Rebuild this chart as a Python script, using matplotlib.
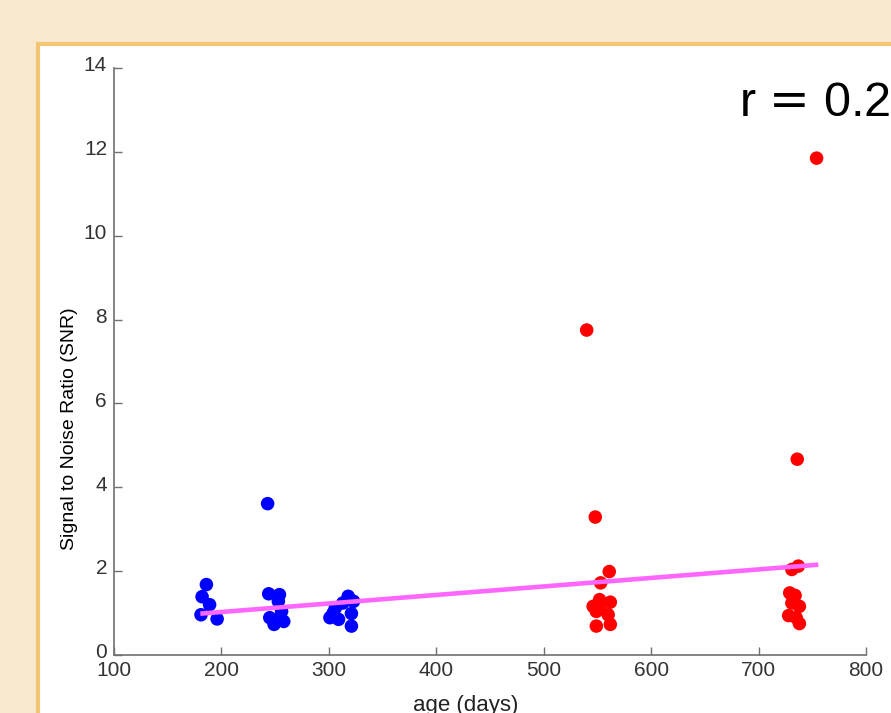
import matplotlib.pyplot as plt
import matplotlib.transforms as mtransforms
from matplotlib.patches import Rectangle

plt.rcParams['font.family'] = ['Liberation Sans', 'DejaVu Sans']
plt.rcParams['mathtext.fontset'] = 'dejavusans'

# younger group (blue)
young_age = [186, 182, 189, 181, 196,
             243, 244, 254, 253, 256, 245, 249, 258, 253,
             301, 309, 318, 323, 313, 306, 321, 321, 304]
young_snr = [1.68, 1.39, 1.20, 0.96, 0.86,
             3.61, 1.46, 1.44, 1.28, 1.04, 0.89, 0.73, 0.80, 0.85,
             0.89, 0.85, 1.40, 1.28, 1.24, 1.12, 0.99, 0.69, 1.00]

# older group (red)
old_age = [540, 548, 561, 553, 552, 562, 546, 552, 560, 549, 549, 562,
           754, 736, 737, 731, 729, 734, 731, 738, 728, 735, 738]
old_snr = [7.75, 3.29, 1.99, 1.72, 1.32, 1.26, 1.16, 1.12, 0.96, 1.04, 0.69, 0.73,
           11.85, 4.67, 2.12, 2.04, 1.48, 1.42, 1.24, 1.16, 0.94, 0.89, 0.75]

# fitted line end points
fit_age = [182.5, 753.5]
fit_snr = [0.99, 2.15]
r_value = 0.24

fig = plt.figure(figsize=(8.91, 7.13), dpi=100)
fig.patch.set_facecolor('#f8e9cf')

# white panel with orange border (behind the axes)
panel = Rectangle((38/891, -0.2), 1.2, (713-44)/713 + 0.2, transform=fig.transFigure,
                  facecolor='white', edgecolor='#f2c674', linewidth=3, zorder=-10)
fig.patches.append(panel)

ax = fig.add_axes([114/891, 58/713, 752/891, 587/713])
ax.set_facecolor('none')

ax.scatter(young_age, young_snr, s=95, color='#0000ff', edgecolors='none', zorder=3)
ax.scatter(old_age, old_snr, s=95, color='#ff0000', edgecolors='none', zorder=3)
ax.plot(fit_age, fit_snr, color='#ff66ff', linewidth=3.3, zorder=4)

ax.set_xlim(100, 800)
ax.set_ylim(0, 14)
ax.set_xticks(range(100, 801, 100))
ax.set_yticks(range(0, 15, 2))

for s in ['top', 'right']:
    ax.spines[s].set_visible(False)
for s in ['left', 'bottom']:
    ax.spines[s].set_color('#707070')
    ax.spines[s].set_linewidth(1.2)

ax.tick_params(direction='in', length=6, width=1, color='#707070',
               labelsize=15, labelcolor='#333333', pad=5)
ax.tick_params(axis='x', pad=4)

# y tick labels sit a little above their ticks
shift = mtransforms.ScaledTranslation(0, 3/72, fig.dpi_scale_trans)
for lbl in ax.get_yticklabels():
    lbl.set_transform(lbl.get_transform() + shift)

ax.set_xlabel('age (days)', fontsize=16, color='#222222', va='baseline')
ax.xaxis.set_label_coords((466-114)/752, (655-711)/587)
ax.set_ylabel('Signal to Noise Ratio (SNR)', fontsize=14, color='black')
ax.yaxis.set_label_coords((78-114)/752, (655-429)/587)

fig.text(739/891, (713-116)/713, f'r\u200a$=$\u200a{r_value:.2f}', fontsize=35,
         va='baseline', ha='left', color='black')

fig.savefig('out.png', dpi=100, facecolor=fig.get_facecolor())
